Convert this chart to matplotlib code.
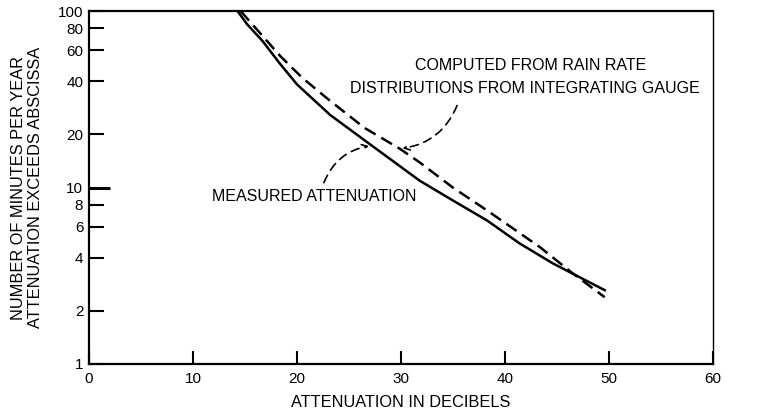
import matplotlib.pyplot as plt
from matplotlib.ticker import FixedLocator, NullLocator

plt.rcParams['font.family'] = ['Liberation Sans', 'DejaVu Sans']

# Datos (dB, minutos por ano)
med_x = [14.3, 15.2, 16.7, 18.3, 20.0, 23.2, 27.2, 31.8, 35.0, 38.3, 41.4, 44.6, 49.6]
med_y = [100, 84.5, 67.7, 51, 38.5, 25.8, 17.3, 10.95, 8.45, 6.5, 4.83, 3.72, 2.62]
calc_x = [14.6, 18.4, 20.5, 23.2, 26.5, 29.9, 31.8, 35.0, 38.3, 43.4, 46.5, 49.6]
calc_y = [100, 55.7, 42, 31.0, 21.8, 16.6, 13.9, 10.0, 7.41, 4.58, 3.27, 2.39]

xticks = [0, 10, 20, 30, 40, 50, 60]
yticks = [1, 2, 4, 6, 8, 10, 20, 40, 60, 80, 100]

fig = plt.figure(figsize=(7.6, 4.15), dpi=100)
ax = fig.add_axes([0.117, 0.123, 0.821, 0.850])

ax.plot(med_x, med_y, color='black', lw=1.8)
ax.plot(calc_x, calc_y, color='black', lw=1.8, ls=(0, (5, 2.6)))

ax.set_yscale('log')
ax.set_xlim(0, 60)
ax.set_ylim(1, 100)
ax.xaxis.set_major_locator(FixedLocator(xticks))
ax.set_xticklabels([str(t) for t in xticks])
ax.yaxis.set_major_locator(FixedLocator(yticks))
ax.yaxis.set_minor_locator(NullLocator())
ax.set_yticklabels([str(t) for t in yticks])
ax.tick_params(direction='in', length=10.8, width=1.5, labelsize=11, pad=4)
ax.tick_params(axis='x', length=9.4, pad=6)
t10 = ax.yaxis.get_major_ticks()[5].tick1line
t10.set_markersize(15)
t10.set_markeredgewidth(2.2)

for s in ['left', 'bottom', 'top']:
    ax.spines[s].set_linewidth(1.6)
ax.spines['right'].set_linewidth(1.0)

ax.set_xlabel('ATTENUATION IN DECIBELS', fontsize=11.8, labelpad=6)
ax.set_ylabel('NUMBER OF MINUTES PER YEAR\nATTENUATION EXCEEDS ABSCISSA',
              fontsize=11.8, labelpad=11, linespacing=1.15)

ax.text(42.5, 49, 'COMPUTED FROM RAIN RATE', ha='center', va='center', fontsize=11.5)
ax.text(41.9, 36.5, 'DISTRIBUTIONS FROM INTEGRATING GAUGE', ha='center', va='center',
        fontsize=11.5)
ax.text(11.8, 8.9, 'MEASURED ATTENUATION', ha='left', va='center', fontsize=11.5)

ax.annotate('', xy=(29.9, 16.6), xytext=(35.5, 30.2),
            arrowprops=dict(arrowstyle='->', ls=(0, (5, 3.5)), lw=1.2,
                            color='black', connectionstyle='arc3,rad=-0.3'))
ax.annotate('', xy=(27.2, 17.3), xytext=(22.5, 10.3),
            arrowprops=dict(arrowstyle='->', ls=(0, (5, 3.5)), lw=1.2,
                            color='black', connectionstyle='arc3,rad=-0.3'))

fig.savefig('out.png', dpi=100)
